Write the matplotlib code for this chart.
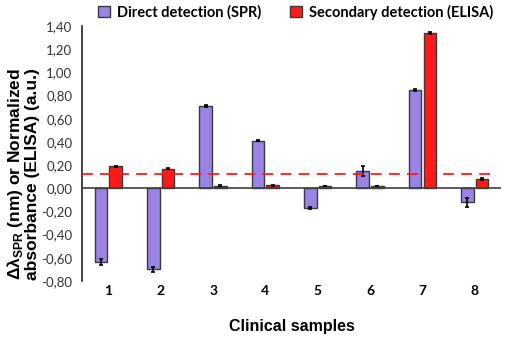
import matplotlib
matplotlib.use("Agg")
import matplotlib.pyplot as plt
import numpy as np
from matplotlib.ticker import FuncFormatter, MultipleLocator

samples = ["1", "2", "3", "4", "5", "6", "7", "8"]
spr = [-0.64, -0.70, 0.71, 0.41, -0.17, 0.15, 0.85, -0.12]
spr_err = [0.025, 0.02, 0.01, 0.005, 0.01, 0.04, 0.01, 0.04]
elisa = [0.19, 0.17, 0.02, 0.025, 0.02, 0.02, 1.34, 0.08]
elisa_err = [0.005, 0.003, 0.005, 0.003, 0.003, 0.003, 0.005, 0.005]
cutoff = 0.12

purple = "#9b83e6"
red = "#ff1a1a"
edge = "#3a3a3a"

plt.rcParams["mathtext.fontset"] = "custom"
plt.rcParams["mathtext.bf"] = "Liberation Sans:bold"
plt.rcParams["mathtext.rm"] = "Liberation Sans:bold"

fig = plt.figure(figsize=(5.17, 3.43), dpi=100)
ax = fig.add_axes([0.159, 0.181, 0.81, 0.743])

x = np.arange(1, len(samples) + 1)
w = 0.24
err_kw = dict(ecolor="black", elinewidth=1.2, capsize=1.5, capthick=1.2)
ax.bar(x - 0.14, spr, w, color=purple, edgecolor=edge, linewidth=1,
       yerr=spr_err, error_kw=err_kw, label="Direct detection (SPR)", zorder=2)
ax.bar(x + 0.14, elisa, w, color=red, edgecolor=edge, linewidth=1,
       yerr=elisa_err, error_kw=err_kw, label="Secondary detection (ELISA)", zorder=2)

ax.axhline(0, color="#404040", linewidth=1.2, zorder=3)
ax.plot([0.5, 8.4], [cutoff, cutoff], color=red, linestyle=(0, (6, 4)),
        linewidth=1.3, zorder=4)

ax.set_xlim(0.5, 8.5)
ax.set_ylim(-0.8, 1.4)
ax.yaxis.set_major_locator(MultipleLocator(0.2))
ax.yaxis.set_major_formatter(FuncFormatter(lambda v, p: f"{v:.2f}".replace(".", ",")))
ax.set_xticks(x)
ax.set_xticklabels(samples, fontweight="bold", fontfamily="Lato", fontsize=10)
ax.tick_params(axis="x", length=0, pad=3)
ax.tick_params(axis="y", length=0, pad=7, labelsize=9.5)
for lab in ax.get_yticklabels():
    lab.set_fontfamily("Lato")
    lab.set_color("#333333")

for s in ["top", "right", "bottom"]:
    ax.spines[s].set_visible(False)
ax.spines["left"].set_linewidth(1.2)
ax.spines["left"].set_color("#222222")

ax.set_ylabel("Δλ$_{\\mathrm{SPR}}$ (nm) or Normalized\nabsorbance (ELISA) (a.u.)",
              fontfamily="Liberation Sans", fontweight="bold", fontsize=12.5,
              linespacing=1.0)
ax.yaxis.set_label_coords(-0.10, 0.42)
ax.set_xlabel("Clinical samples", fontfamily="Liberation Sans", fontweight="bold",
              fontsize=11.5, labelpad=16)

leg = fig.legend(loc="upper center", bbox_to_anchor=(0.572, 1.025), ncol=2, frameon=False,
                 prop={"family": "Lato", "weight": "bold", "size": 10.5},
                 handlelength=0.8, handleheight=0.8, handletextpad=0.5, columnspacing=2.0)

fig.savefig("out.png", dpi=100)
